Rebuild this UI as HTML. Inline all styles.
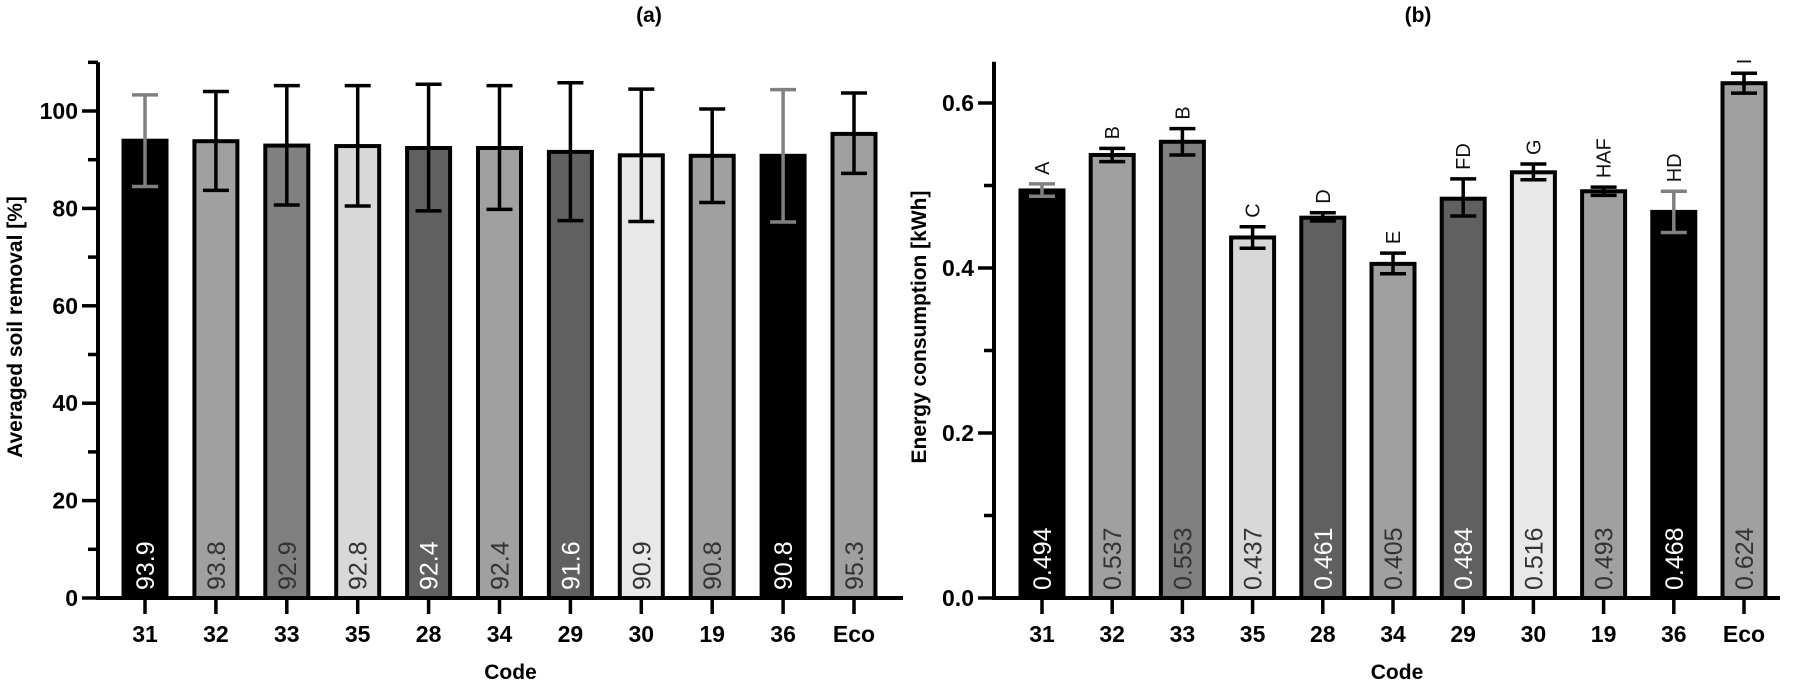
<!DOCTYPE html><html><head><style>body{margin:0;background:#fff}svg{display:block}text{font-family:"Liberation Sans",sans-serif}</style></head><body>
<svg width="1801" height="683" xmlns="http://www.w3.org/2000/svg" id="s"></svg>
<script>
const S=document.getElementById('s');let h='';
const cols=['#000','#a0a0a0','#808080','#d8d8d8','#606060','#a0a0a0','#606060','#e8e8e8','#a0a0a0','#000','#a0a0a0'];
const codes=['31','32','33','35','28','34','29','30','19','36','Eco'];
const wt=[1,0,0,0,1,0,1,0,0,1,0];
function chart(ax,x0,sp,ymax,ppu,minor,major,fmt,vals,errs,labels,fmtv,title,ylab,ylx,axEnd,tx){
 const B=598,top=B-ymax*ppu;
 h+=`<text x="${tx}" y="22" font-size="21" font-weight="bold" text-anchor="middle">${title}</text>`;
 h+=`<line x1="${ax}" y1="${top}" x2="${ax}" y2="${B+2}" stroke="#000" stroke-width="4"/>`;
 h+=`<line x1="${ax-2}" y1="${B}" x2="${axEnd}" y2="${B}" stroke="#000" stroke-width="4"/>`;
 for(let v=0;v<=ymax+1e-9;v+=minor){const y=B-v*ppu;const isM=Math.abs(Math.round(v/major)*major-v)<1e-9;
  h+=`<line x1="${ax-(isM?16:10)}" y1="${y}" x2="${ax}" y2="${y}" stroke="#000" stroke-width="3.5"/>`;
  if(isM)h+=`<text x="${ax-20}" y="${y+8}" font-size="23" font-weight="bold" text-anchor="end">${fmt(v)}</text>`;}
 vals.forEach((v,i)=>{const cx=x0+i*sp,y=B-v*ppu;
  h+=`<rect x="${cx-21.5}" y="${y}" width="43" height="${B-y}" fill="${cols[i]}" stroke="#000" stroke-width="4"/>`;
  const [lo,hi]=errs[i],ec=(i==0||i==9)?'#808080':'#000';const yl=B-lo*ppu,yh=B-hi*ppu;
  h+=`<g stroke="${ec}" stroke-width="3.5"><line x1="${cx}" y1="${yl}" x2="${cx}" y2="${yh}"/><line x1="${cx-13}" y1="${yl}" x2="${cx+13}" y2="${yl}"/><line x1="${cx-13}" y1="${yh}" x2="${cx+13}" y2="${yh}"/></g>`;
  h+=`<text transform="translate(${cx+9},590) rotate(-90)" font-size="25" fill="${wt[i]?'#fff':'#333'}">${fmtv(v)}</text>`;
  if(labels)h+=`<text transform="translate(${cx+7},${yh-9}) rotate(-90)" font-size="20" fill="#111">${labels[i]}</text>`;
  h+=`<line x1="${cx}" y1="${B}" x2="${cx}" y2="${B+16}" stroke="#000" stroke-width="3.5"/>`;
  h+=`<text x="${cx}" y="642" font-size="23" font-weight="bold" text-anchor="middle">${codes[i]}</text>`;});
 h+=`<text x="${(ax+axEnd)/2+10}" y="679" font-size="21" font-weight="bold" text-anchor="middle">Code</text>`;
 h+=`<text transform="translate(${ylx},327) rotate(-90)" font-size="21" font-weight="bold" text-anchor="middle">${ylab}</text>`;
}
chart(98,145,70.9,110,4.87,10,20,v=>Math.round(v),[93.9,93.8,92.9,92.8,92.4,92.4,91.6,90.9,90.8,90.8,95.3],
 [[84.5,103.3],[83.7,104],[80.7,105.2],[80.5,105.2],[79.5,105.5],[79.8,105.2],[77.5,105.8],[77.3,104.5],[81.2,100.4],[77.2,104.4],[87.2,103.7]],
 null,v=>v.toFixed(1),'(a)','Averaged soil removal [%]',22,903,649);
chart(994,1042,70.2,0.65,825,0.1,0.2,v=>v.toFixed(1),[0.494,0.537,0.553,0.437,0.461,0.405,0.484,0.516,0.493,0.468,0.624],
 [[0.487,0.502],[0.529,0.545],[0.537,0.569],[0.424,0.45],[0.457,0.467],[0.393,0.418],[0.463,0.508],[0.507,0.526],[0.488,0.498],[0.443,0.493],[0.612,0.636]],
 ['A','B','B','C','D','E','FD','G','HAF','HD','I'],v=>v.toFixed(3),'(b)','Energy consumption [kWh]',926,1780,1418);
S.innerHTML=h;
</script></body></html>
